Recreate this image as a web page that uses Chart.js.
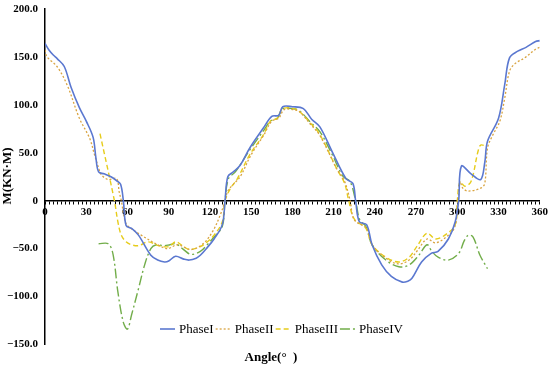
<!DOCTYPE html>
<html>
<head>
<meta charset="utf-8">
<script src="https://cdn.jsdelivr.net/npm/chart.js@4.4.1/dist/chart.umd.min.js"></script>
<style>
  html, body { margin: 0; padding: 0; background: #fff; }
  #wrap { width: 550px; height: 367px; position: relative; }
</style>
</head>
<body>
<div id="wrap"><canvas id="momentChart"></canvas></div>
<script>
/* --- DATA --- */
const X_TICKS = [0, 30, 60, 90, 120, 150, 180, 210, 240, 270, 300, 330, 360];
const Y_TICKS = [200, 150, 100, 50, 0, -50, -100, -150];

const P1_ANGLE = [0, 3, 6, 9, 14, 19, 25, 30, 35, 37, 39, 43, 48, 52, 55, 57, 59, 63, 68, 77, 82, 87, 90, 95, 101, 105, 110, 113, 118, 123, 129, 131, 133, 137, 142, 149, 159, 165, 170, 173, 180, 188, 194, 200, 209, 219, 224, 226, 228.7, 234, 238, 245, 252, 260, 264, 267, 274, 281, 286, 293.5, 298.5, 301, 303, 310, 317, 320, 322, 330, 334.5, 338, 344, 350, 357, 360];
const P1_VALUE = [164, 157, 152, 148, 140, 118, 97, 83, 66, 45, 30, 28, 25, 21, 17, 0, -26, -29, -36, -57, -62, -64, -63, -58, -61, -62, -60, -57, -49, -40, -25, 0, 25, 30, 37, 55, 76, 88, 89, 98, 98, 96, 85, 77, 51, 23, 18, 0, -22, -25, -46, -67, -79, -85, -84, -81, -64, -55, -53, -40, -22, 0, 36, 28, 22, 40, 62, 86, 121, 149, 156, 160, 166, 167];

const P2_ANGLE = [0, 1.5, 8.7, 16, 25, 32.5, 36, 39, 41, 46, 52, 54, 55.5, 58, 60, 70, 82, 89, 96.5, 106, 115, 122, 127.5, 131, 133, 137, 142, 150, 159, 165, 170, 174, 180, 185, 193, 200, 212, 218, 222, 225, 234, 238, 248, 257, 265, 271, 278, 284, 291, 298, 300.5, 302, 304, 308, 317, 320, 322, 326, 331, 334.5, 338, 342, 349, 357, 360];
const P2_VALUE = [157, 150, 140, 121, 86, 65, 48, 34, 27, 22, 23, 9, 0, -20, -26, -36, -46, -50, -46, -51, -45, -32, -15, 0, 10, 17, 25, 48, 68, 83, 86, 95, 95, 93, 80, 68, 34, 20, 0, -20, -29, -46, -60, -66, -62, -52, -40, -44, -39, -28, 0, 20, 13, 10, 13, 18, 55, 69, 83, 107, 135, 143, 149, 158, 160];

const P3_ANGLE = [40, 50.5, 53, 55.5, 59, 63, 68, 75, 83, 90, 95, 100, 105, 113, 118, 123, 129, 131, 135, 140, 149, 159, 164, 169, 173, 183, 193, 200, 212, 218, 221, 225, 233.5, 238, 248, 257.5, 265, 270.5, 278, 284, 291, 298.5, 300, 302, 305.5, 310, 315, 317, 321];
const P3_VALUE = [70, 0, -22, -36, -43, -46, -47, -43, -47, -48, -43, -47, -51, -48, -43, -36, -22, 0, 13, 23, 48, 69, 83, 86, 96, 95, 81, 69, 34, 18, 0, -19, -29, -46, -59, -64, -59, -48, -34, -40, -36, -25, 0, 20, 15, 20, 51, 58, 57];

const P4_ANGLE = [39, 46, 49.5, 53, 57, 60, 63, 68, 72.5, 77, 81, 86, 91, 95, 100, 106, 113, 118, 123, 129, 131, 133.5, 138.5, 149, 159, 164, 169, 173, 180, 185, 193, 200, 209, 217, 222, 226, 229, 233.5, 238, 248, 257.5, 265, 272, 278, 281.5, 286, 293.5, 301, 305, 308, 311.5, 316.5, 322];
const P4_VALUE = [-45, -45, -56, -95, -127, -134, -119, -92, -67, -50, -46, -47, -46, -45, -50, -56, -53, -46, -38, -27, 0, 23, 30, 53, 73, 83, 86, 96, 96, 94, 82, 72, 48, 25, 20, 0, -20, -27, -46, -62, -69, -67, -57, -46, -53, -59, -62, -55, -42, -36, -38, -57, -71];

const SERIES_NAMES = ['PhaseI', 'PhaseII', 'PhaseIII', 'PhaseIV'];
const Y_TITLE = 'M(KN·M)';

const SERIF = '"Liberation Serif", "Times New Roman", serif';

function toPoints(xs, ys) {
  return xs.map((x, i) => ({ x: x, y: ys[i] }));
}

/* --- LEGEND INSIDE PLOT + Y TITLE (custom) --- */
const insideLegend = {
  id: 'insideLegend',
  afterDraw(chart) {
    const ctx = chart.ctx;
    const y = 329;
    let x = 160;
    ctx.save();
    ctx.font = '13px ' + SERIF;
    ctx.textBaseline = 'middle';
    chart.data.datasets.forEach(ds => {
      ctx.strokeStyle = ds.borderColor;
      ctx.lineWidth = ds.borderWidth;
      ctx.setLineDash(ds.borderDash || []);
      ctx.beginPath();
      ctx.moveTo(x, y);
      ctx.lineTo(x + 15, y);
      ctx.stroke();
      ctx.setLineDash([]);
      ctx.fillStyle = '#000';
      ctx.fillText(ds.label, x + 19, y + 1);
      x += 19 + ctx.measureText(ds.label).width + 2;
    });

    // rotated y-axis title, sits over the label column like the original
    ctx.translate(8, 176);
    ctx.rotate(-Math.PI / 2);
    ctx.font = 'bold 13px ' + SERIF;
    ctx.textAlign = 'center';
    ctx.fillText(Y_TITLE, 0, 0);
    ctx.restore();
  }
};

/* --- CHART --- */
const ctx = document.getElementById('momentChart').getContext('2d');
new Chart(ctx, {
  type: 'line',
  data: {
    datasets: [{
      label: SERIES_NAMES[0],
      data: toPoints(P1_ANGLE, P1_VALUE),
      borderColor: '#5b78d0',
      borderWidth: 1.6,
      tension: 0.35
    }, {
      label: SERIES_NAMES[1],
      data: toPoints(P2_ANGLE, P2_VALUE),
      borderColor: '#d9a441',
      borderWidth: 1.3,
      borderDash: [2, 2],
      tension: 0.35
    }, {
      label: SERIES_NAMES[2],
      data: toPoints(P3_ANGLE, P3_VALUE),
      borderColor: '#e6cc1a',
      borderWidth: 1.4,
      borderDash: [5, 3],
      tension: 0.35
    }, {
      label: SERIES_NAMES[3],
      data: toPoints(P4_ANGLE, P4_VALUE),
      borderColor: '#72ad4a',
      borderWidth: 1.4,
      borderDash: [10, 3, 2, 3],
      tension: 0.35
    }]
  },
  options: {
    responsive: true,
    maintainAspectRatio: false,
    animation: false,
    elements: { point: { radius: 0 } },
    layout: { padding: { top: 0, right: 8, left: 0, bottom: 0 } },
    plugins: {
      legend: { display: false },
      tooltip: { enabled: false },
      title: {
        display: true,
        position: 'bottom',
        text: 'Angle(°  )',
        color: '#000',
        font: { family: SERIF, size: 13, weight: 'bold' },
        padding: { top: 5, bottom: 2 }
      }
    },
    scales: {
      x: {
        type: 'linear',
        position: { y: 0 },
        min: 0,
        max: 360,
        border: { color: '#000', width: 1.5 },
        grid: { drawOnChartArea: false, drawTicks: true, tickLength: 3, color: '#000' },
        ticks: {
          stepSize: 3,
          autoSkip: false,
          maxRotation: 0,
          padding: 2,
          color: '#000',
          font: { family: SERIF, size: 11, weight: 'bold' },
          callback: v => (X_TICKS.includes(v) ? String(v) : '')
        }
      },
      y: {
        min: -150,
        max: 200,
        afterBuildTicks: axis => { axis.ticks = Y_TICKS.map(v => ({ value: v })); },
        afterFit: axis => { axis.paddingTop = 9; },
        border: { color: '#000', width: 1.5 },
        grid: { display: false, drawTicks: false },
        ticks: {
          padding: 7,
          color: '#000',
          font: { family: SERIF, size: 11, weight: 'bold' },
          callback: v => (v === 0 ? '0' : (v < 0 ? '\u2212' : '') + Math.abs(v).toFixed(1))
        }
      }
    }
  },
  plugins: [insideLegend]
});
</script>
</body>
</html>
